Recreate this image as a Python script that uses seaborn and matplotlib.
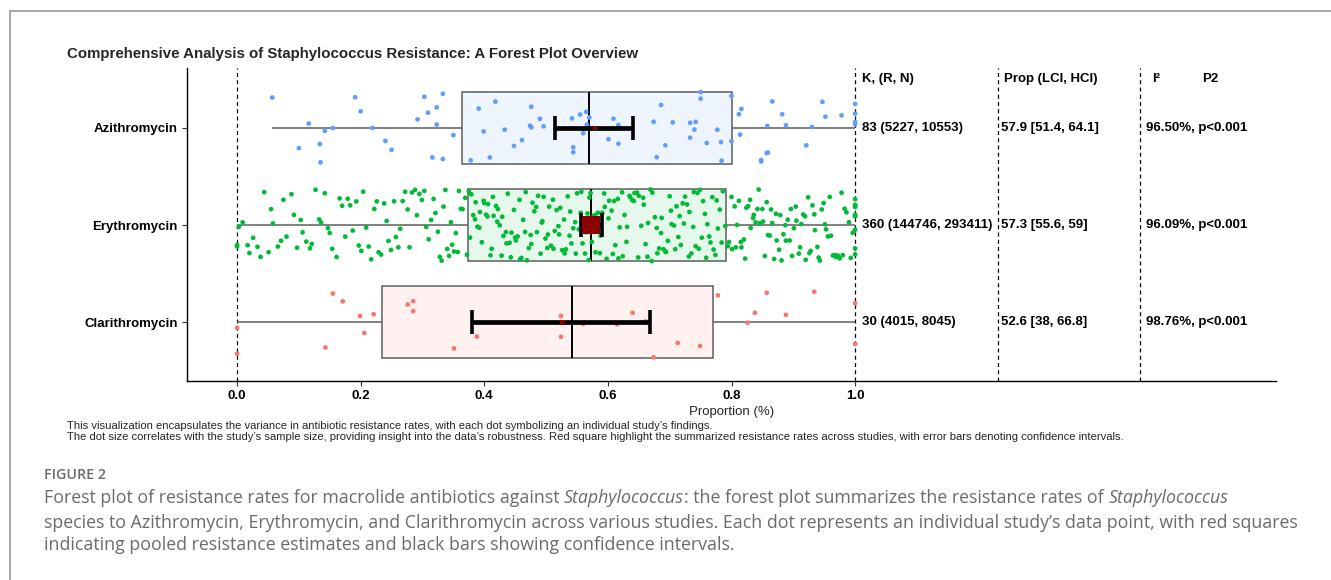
import numpy as np
import pandas as pd
import matplotlib
matplotlib.use("Agg")
import matplotlib.pyplot as plt
from matplotlib.lines import Line2D
import seaborn as sns

# ---------------- data ----------------
drugs = ["Azithromycin", "Erythromycin", "Clarithromycin"]

# individual study proportions
azithromycin = [0.057, 0.100, 0.116, 0.134, 0.135, 0.142, 0.155, 0.191, 0.200, 0.219,
                0.240, 0.250, 0.292, 0.303, 0.309, 0.316, 0.323, 0.323, 0.333, 0.333,
                0.350, 0.378, 0.391, 0.399, 0.409, 0.418, 0.433, 0.448, 0.461, 0.474,
                0.476, 0.476, 0.490, 0.496, 0.542, 0.544, 0.544, 0.555, 0.560, 0.565,
                0.566, 0.570, 0.601, 0.609, 0.617, 0.617, 0.674, 0.679, 0.686, 0.693,
                0.705, 0.733, 0.733, 0.740, 0.742, 0.750, 0.750, 0.760, 0.777, 0.783,
                0.784, 0.800, 0.800, 0.812, 0.814, 0.816, 0.848, 0.848, 0.857, 0.858,
                0.859, 0.866, 0.882, 0.888, 0.921, 0.930, 0.947, 0.952, 0.978, 1.000,
                1.000, 1.000, 1.000]

erythromycin_pm = [  # per-mille
    0, 0, 3, 9, 17, 20, 26, 33, 38, 44, 51, 55, 58, 66, 71, 75, 80, 88, 92, 97,
    103, 106, 112, 118, 121, 127, 133, 136, 142, 147, 150, 154, 161, 166, 170, 175, 179, 183, 187, 193,
    197, 201, 204, 209, 213, 217, 222, 226, 229, 233, 238, 242, 245, 249, 254, 257, 261, 264, 268, 272,
    276, 279, 283, 288, 291, 295, 299, 303, 306, 310, 314, 318, 321, 325, 328, 331, 334, 337, 340, 343,
    346, 348, 351, 354, 357, 359, 362, 365, 369, 372,
    375, 377, 379, 382, 385, 386, 389, 392, 393, 396, 399, 400, 403, 405, 406, 410, 412, 414, 415, 419,
    421, 422, 425, 428, 429, 431, 435, 436, 438, 441, 443, 444, 448, 450, 451, 454, 457, 458, 460, 463,
    466, 467, 469, 472, 475, 476, 478, 481, 484, 485, 487, 491, 493, 494, 496, 499, 502, 503, 505, 508,
    511, 512, 514, 517, 520, 521, 523, 526, 529, 530, 532, 535, 538, 539, 541, 544, 547, 548, 550, 553,
    556, 557, 559, 561, 563, 565, 567, 569, 570, 572,
    574, 577, 579, 580, 584, 587, 588, 591, 594, 595, 598, 601, 602, 606, 608, 610, 612, 616, 617, 619,
    623, 624, 627, 630, 631, 635, 636, 639, 642, 643, 647, 649, 650, 654, 657, 658, 661, 664, 665, 669,
    671, 672, 676, 679, 680, 683, 686, 687, 690, 693, 694, 697, 700, 702, 703, 707, 709, 711, 714, 716,
    718, 721, 723, 725, 728, 731, 732, 735, 738, 739, 742, 745, 747, 749, 752, 754, 757, 759, 761, 764,
    766, 769, 771, 774, 776, 778, 781, 784, 786, 790,
    794, 796, 800, 801, 805, 807, 809, 812, 815, 816, 820, 822, 824, 827, 830, 831, 835, 836, 839, 842,
    844, 846, 850, 851, 854, 857, 859, 862, 864, 866, 869, 872, 873, 877, 879, 881, 884, 887, 888, 891,
    894, 896, 898, 901, 904, 905, 909, 911, 913, 916, 919, 920, 924, 926, 928, 931, 934, 935, 939, 941,
    943, 946, 949, 951, 953, 956, 959, 961, 964, 967, 969, 972, 975, 978, 980, 983, 986, 990, 993, 996,
    1000, 1000, 1000, 1000, 1000, 1000, 1000, 1000, 1000, 1000]

clarithromycin = [0.0, 0.0, 0.143, 0.155, 0.171, 0.199, 0.206, 0.221, 0.276, 0.285,
                  0.285, 0.351, 0.388, 0.524, 0.524, 0.560, 0.615, 0.640, 0.661, 0.674,
                  0.713, 0.749, 0.778, 0.826, 0.838, 0.857, 0.888, 0.934, 1.0, 1.0]

# pooled meta-analysis summary
k_studies = [83, 360, 30]
r_resistant = [5227, 144746, 4015]
n_tested = [10553, 293411, 8045]
prop_pct = [57.9, 57.3, 52.6]
lci_pct = [51.4, 55.6, 38.0]
hci_pct = [64.1, 59.0, 66.8]
i2_pct = [96.50, 96.09, 98.76]
p_text = ["p<0.001", "p<0.001", "p<0.001"]

col_headers = ["K, (R, N)", "Prop (LCI, HCI)", "I\u00b2", "P2"]
x_ticks = [0.0, 0.2, 0.4, 0.6, 0.8, 1.0]

# ---------------- styling ----------------
sns.set_theme(style="ticks")
plt.rcParams["font.family"] = ["Liberation Sans", "DejaVu Sans"]

dot_colors = {"Azithromycin": "#619CFF", "Erythromycin": "#00BA38", "Clarithromycin": "#F8766D"}
box_fills = {"Azithromycin": "#EFF5FF", "Erythromycin": "#E6F8EB", "Clarithromycin": "#FEF1F0"}
square_sizes = [10, 160, 14]

df = pd.DataFrame({
    "drug": (["Azithromycin"] * len(azithromycin) + ["Erythromycin"] * len(erythromycin_pm)
             + ["Clarithromycin"] * len(clarithromycin)),
    "prop": list(azithromycin) + [v / 1000 for v in erythromycin_pm] + list(clarithromycin),
})
summary = pd.DataFrame({"drug": drugs, "prop": np.array(prop_pct) / 100,
                        "lci": np.array(lci_pct) / 100, "hci": np.array(hci_pct) / 100})

W, H = 1331, 580
fig = plt.figure(figsize=(W / 100, H / 100), dpi=100)
fig.patch.set_facecolor("white")
ax = fig.add_axes([187 / W, 1 - 380.7 / H, (1276 - 187) / W, (380.7 - 68.3) / H])

sns.boxplot(data=df, x="prop", y="drug", hue="drug", order=drugs, hue_order=drugs,
            palette=box_fills, saturation=1, whis=(0, 100), width=0.74,
            showfliers=False, showcaps=False, linecolor="#5e5e5e", linewidth=1.1,
            medianprops=dict(color="black", linewidth=1.4), legend=False, ax=ax)

np.random.seed(7)
sns.stripplot(data=df, x="prop", y="drug", hue="drug", order=drugs, hue_order=drugs,
              palette=dot_colors, jitter=0.37, size=3.4, linewidth=0, legend=False,
              zorder=3, ax=ax)

pos = np.arange(len(drugs))
ax.errorbar(summary["prop"], pos,
            xerr=[summary["prop"] - summary["lci"], summary["hci"] - summary["prop"]],
            fmt="none", ecolor="black", elinewidth=3.4, capsize=8.5, capthick=2.6, zorder=4)
ax.scatter(summary["prop"], pos, marker="s", s=square_sizes, color="#8B0000",
           linewidths=0, zorder=5)

for xv in [0.0, 1.0, 1.231, 1.461]:
    ax.axvline(xv, color="black", lw=0.9, ls=(0, (3.2, 2.6)), zorder=0.5)

ax.set_xlim(-0.081, 1.681)
ax.set_ylim(2.6, -0.614)
ax.set_xticks(x_ticks)
ax.set_xticklabels([f"{t:.1f}" for t in x_ticks], fontweight="bold", fontsize=9.5)
ax.set_yticks(pos)
ax.set_yticklabels(drugs, fontweight="bold", fontsize=9.5)
ax.tick_params(axis="both", length=3.5, width=0.8, color="#333333", pad=3, labelcolor="black")
ax.set_xlabel("Proportion (%)", fontsize=9.5, labelpad=3)
ax.set_ylabel("")
for s in ["top", "right"]:
    ax.spines[s].set_visible(False)
for s in ["left", "bottom"]:
    ax.spines[s].set_linewidth(1.0)
    ax.spines[s].set_color("black")

# table columns
hdr_y = -0.50
tkw = dict(fontsize=9.5, fontweight="bold", va="center", ha="left", color="black")
ax.text(1.011, hdr_y, col_headers[0], **tkw)
ax.text(1.2415, hdr_y, col_headers[1], **tkw)
ax.text(1.480, hdr_y, col_headers[2], **tkw)
ax.text(1.561, hdr_y, col_headers[3], **tkw)
for i in range(len(drugs)):
    ax.text(1.011, i, f"{k_studies[i]} ({r_resistant[i]}, {n_tested[i]})", **tkw)
    ax.text(1.236, i, f"{prop_pct[i]:g} [{lci_pct[i]:g}, {hci_pct[i]:g}]", **tkw)
    ax.text(1.471, i, f"{i2_pct[i]:.2f}%, {p_text[i]}", **tkw)

# title and footnote
fig.text(67 / W, 1 - 54.3 / H, "Comprehensive Analysis of Staphylococcus Resistance: A Forest Plot Overview",
         fontsize=10.8, fontweight="bold", va="center", ha="left")
fig.text(67 / W, 1 - 426 / H,
         "This visualization encapsulates the variance in antibiotic resistance rates, with each dot symbolizing an individual study\u2019s findings.",
         fontsize=8.15, va="center", ha="left")
fig.text(67 / W, 1 - 437 / H,
         "The dot size correlates with the study\u2019s sample size, providing insight into the data\u2019s robustness. Red square highlight the summarized resistance rates across studies, with error bars denoting confidence intervals.",
         fontsize=8.15, va="center", ha="left")

# frame lines
fig.add_artist(Line2D([10 / W, 1.0], [1 - 10.5 / H, 1 - 10.5 / H], color="#9a9a9a", lw=1.2))
fig.add_artist(Line2D([9.5 / W, 9.5 / W], [0.0, 1 - 10.5 / H], color="#9a9a9a", lw=1.2))

# figure caption
cap_color = "#6b6b6b"
cfont = ["Open Sans", "DejaVu Sans"]
fig.text(44 / W, 1 - 475 / H, "FIGURE 2", fontsize=10.3, fontweight="semibold", color=cap_color,
         family=cfont, va="center", ha="left")


def rich_line(x, y, parts, size=12.75):
    t = fig.text(x, y, parts[0][0], fontsize=size, style=parts[0][1], color=cap_color,
                 family=cfont, va="bottom", ha="left")
    for s, st in parts[1:]:
        t = ax.annotate(s, xy=(1, 0), xycoords=t, fontsize=size, style=st, color=cap_color,
                        family=cfont, va="bottom", ha="left", annotation_clip=False)


cap_lines = [
    [("Forest plot of resistance rates for macrolide antibiotics against ", "normal"),
     ("Staphylococcus", "italic"),
     (": the forest plot summarizes the resistance rates of ", "normal"),
     ("Staphylococcus", "italic")],
    [("species to Azithromycin, Erythromycin, and Clarithromycin across various studies. Each dot represents an individual study\u2019s data point, with red squares", "normal")],
    [("indicating pooled resistance estimates and black bars showing confidence intervals.", "normal")],
]
for yy, parts in zip([498.3, 522.7, 545.5], cap_lines):
    rich_line(44 / W, 1 - (yy + 9) / H, parts)

fig.savefig("out.png", dpi=100, facecolor="white")
